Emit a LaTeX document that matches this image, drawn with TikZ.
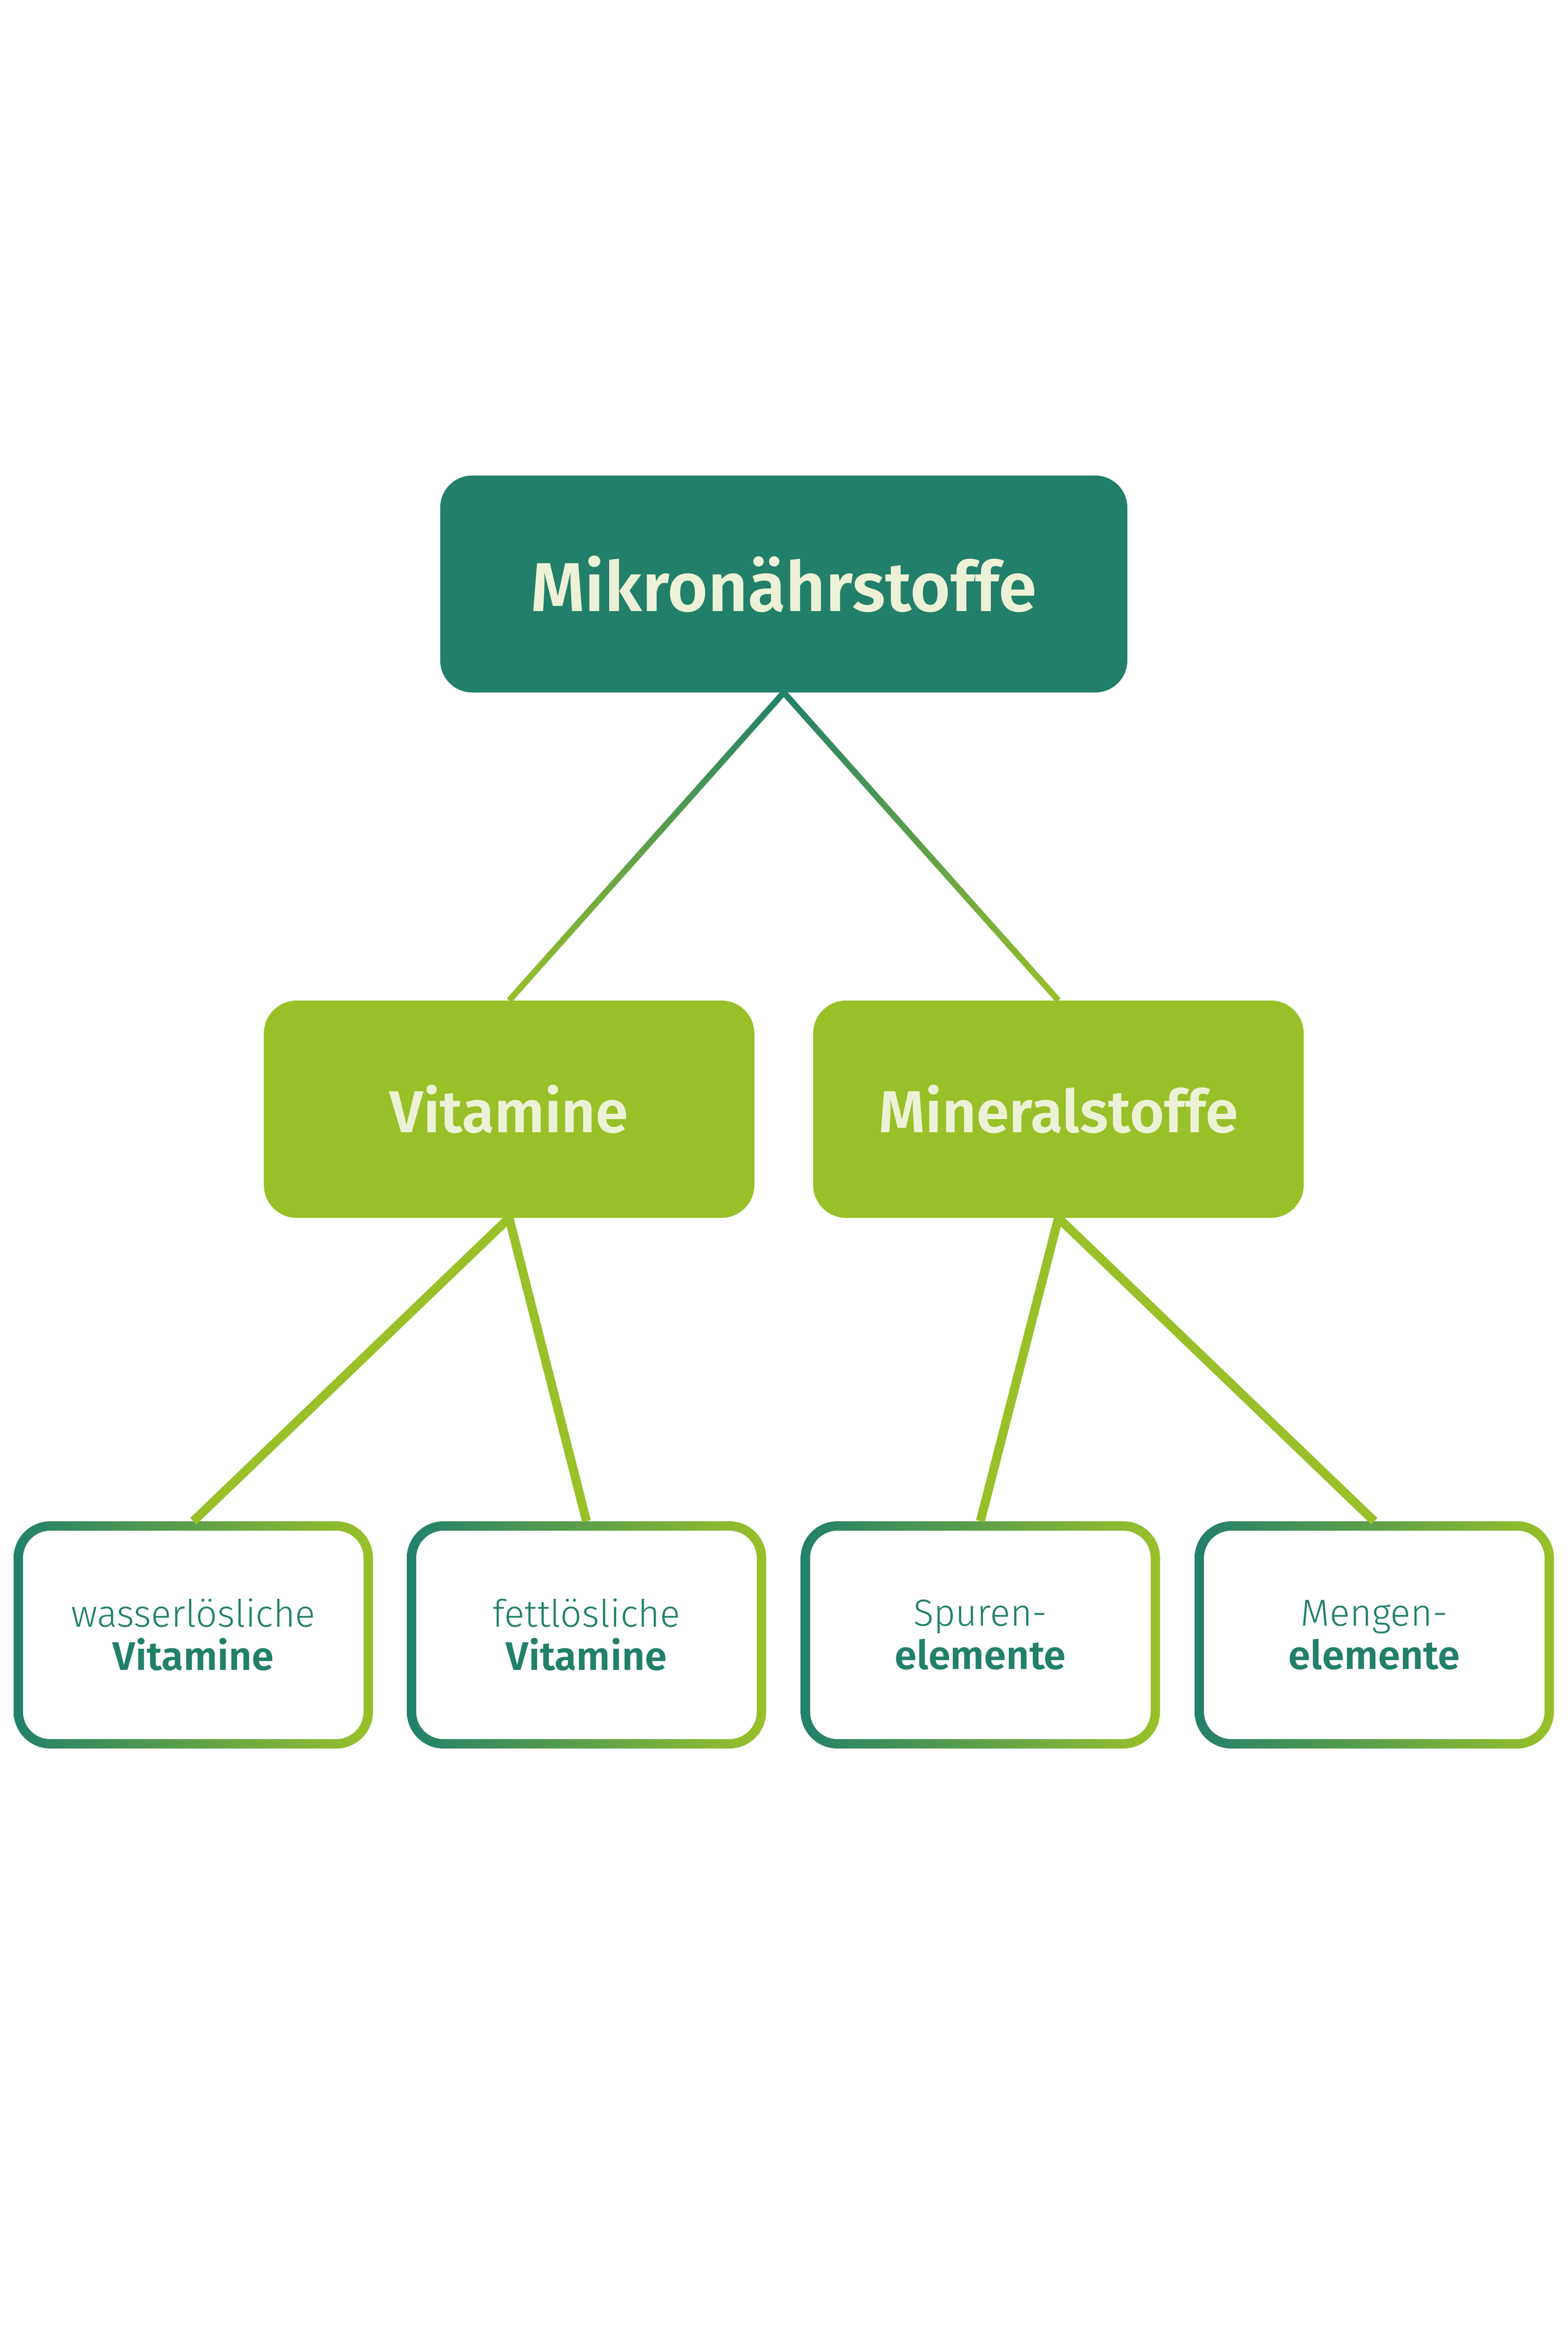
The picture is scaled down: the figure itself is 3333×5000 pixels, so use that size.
\documentclass[tikz,border=0pt]{standalone}
\usepackage{fontspec}
\setmainfont{Fira Sans}[UprightFont=* Light, BoldFont=* SemiBold]
\usetikzlibrary{calc}
\definecolor{dg}{HTML}{22806A}
\definecolor{lg}{HTML}{9AC029}
\definecolor{cream}{HTML}{EDF2D7}
\tikzset{
  topbox/.style={rectangle, rounded corners=68pt, fill=dg, text=cream,
    minimum width=1461pt, minimum height=461pt, inner sep=0pt,
    font=\fontsize{147}{170}\selectfont\bfseries},
  midbox/.style={rectangle, rounded corners=70pt, fill=lg, text=cream,
    minimum width=1043pt, minimum height=462pt, inner sep=0pt,
    font=\fontsize{126}{150}\selectfont\bfseries},
  leaf/.style={rectangle, rounded corners=78pt, left color=dg, right color=lg,
    minimum width=764pt, minimum height=483pt, inner sep=0pt, align=center,
    text=dg, font=\fontsize{80}{92}\selectfont,
    path picture={\fill[white, rounded corners=58pt]
      ([shift={(20pt,20pt)}]path picture bounding box.south west) rectangle
      ([shift={(-20pt,-20pt)}]path picture bounding box.north east);}},
  conn/.style={draw=lg, line width=19pt},
}
\newcommand{\strongline}[1]{{\fontsize{85}{92}\selectfont\bfseries #1}}
\begin{document}
\begin{tikzpicture}[x=1pt,y=-1pt]
\useasboundingbox (0,0) rectangle (3333,5000);
\node[topbox] (top) at (1666.5,1241.5) {Mikronährstoffe};
\node[midbox] (vit) at (1082.5,2358) {Vitamine};
\node[midbox] (min) at (2250.5,2358) {Mineralstoffe};
\node[leaf] (l1) at (411,3475.5) {wasserlösliche\\\strongline{Vitamine}};
\node[leaf] (l2) at (1247,3475.5) {fettlösliche\\\strongline{Vitamine}};
\node[leaf] (l3) at (2084.5,3475.5) {Spuren-\\\strongline{elemente}};
\node[leaf] (l4) at (2922,3475.5) {Mengen-\\\strongline{elemente}};
% gradient connectors from top box
\foreach \t in {vit,min}{
  \shade[top color=dg, bottom color=lg]
    ($(top.south)!6.5pt!90:(\t.north)$) -- ($(top.south)!6.5pt!-90:(\t.north)$) --
    ($(\t.north)!6.5pt!90:(top.south)$) -- ($(\t.north)!6.5pt!-90:(top.south)$) -- cycle;
}
\draw[conn] (vit.south) -- (l1.north);
\draw[conn] (vit.south) -- (l2.north);
\draw[conn] (min.south) -- (l3.north);
\draw[conn] (min.south) -- (l4.north);
\end{tikzpicture}
\end{document}
